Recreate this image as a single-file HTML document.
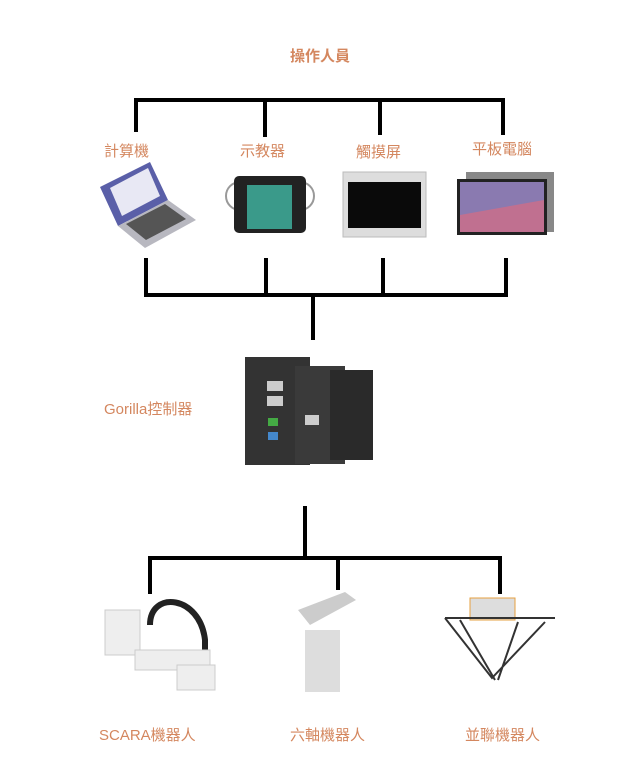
<!DOCTYPE html>
<html><head><meta charset="utf-8"><style>
body{margin:0;background:#fff;}
svg{display:block}
text{font-family:"Liberation Sans","Noto Sans CJK TC",sans-serif;font-size:15px;fill:#d4875f}
</style></head><body>
<svg width="640" height="764" xmlns="http://www.w3.org/2000/svg">
<g stroke="#000" stroke-width="4" fill="none" stroke-linecap="square">
<path d="M136 130V100H503V133M265 100V135M380 100V133"/>
<path d="M146 260V295H506V260M266 260V295M383 260V295M313 295V338"/>
<path d="M305 508V558M150 592V558H500V592M338 558V588"/>
</g>
<text x="290" y="61" font-weight="bold">操作人員</text>
<text x="104" y="156">計算機</text>
<text x="240" y="156">示教器</text>
<text x="356" y="157">觸摸屏</text>
<text x="472" y="154">平板電腦</text>
<text x="104" y="414">Gorilla控制器</text>
<text x="99" y="740">SCARA機器人</text>
<text x="290" y="740">六軸機器人</text>
<text x="465" y="740">並聯機器人</text>
<!-- laptop -->
<polygon points="100,187 150,162 168,200 118,226" fill="#5a5fa8"/>
<polygon points="110,188 148,168 160,196 122,216" fill="#e8e8f4"/>
<polygon points="118,226 168,200 196,220 145,248" fill="#b8b8c0"/>
<polygon points="126,224 165,204 186,219 146,240" fill="#555"/>
<!-- pendant -->
<rect x="226" y="182" width="88" height="28" rx="14" fill="none" stroke="#999" stroke-width="2"/>
<rect x="234" y="176" width="72" height="57" rx="5" fill="#222"/>
<rect x="247" y="185" width="45" height="44" fill="#3a9a8a"/>
<!-- touch screen -->
<rect x="343" y="172" width="83" height="65" fill="#ddd" stroke="#bbb"/>
<rect x="348" y="182" width="73" height="46" fill="#0a0a0a"/>
<!-- tablet -->
<rect x="466" y="172" width="88" height="60" fill="#888"/>
<rect x="457" y="179" width="90" height="56" fill="#222"/>
<rect x="460" y="182" width="84" height="50" fill="#c07090"/>
<polygon points="460,182 544,182 544,200 460,215" fill="#8a7ab0"/>
<!-- controller -->
<rect x="245" y="357" width="65" height="108" fill="#333"/>
<rect x="295" y="366" width="50" height="98" fill="#3a3a3a"/>
<rect x="330" y="370" width="43" height="90" fill="#2a2a2a"/>
<rect x="267" y="381" width="16" height="10" fill="#ccc"/>
<rect x="267" y="396" width="16" height="10" fill="#ccc"/>
<rect x="305" y="415" width="14" height="10" fill="#ccc"/>
<rect x="268" y="418" width="10" height="8" fill="#4a4"/>
<rect x="268" y="432" width="10" height="8" fill="#48c"/>
<!-- SCARA -->
<path d="M150 625C150 590 200 595 205 640V665" stroke="#222" stroke-width="6" fill="none"/>
<rect x="105" y="610" width="35" height="45" fill="#eee" stroke="#ccc"/>
<rect x="135" y="650" width="75" height="20" fill="#eee" stroke="#ccc"/>
<rect x="177" y="665" width="38" height="25" fill="#eee" stroke="#ccc"/>
<!-- 6-axis -->
<rect x="305" y="630" width="35" height="62" fill="#ddd"/>
<polygon points="298,610 345,592 356,600 310,625" fill="#ccc"/>
<!-- delta -->
<rect x="470" y="598" width="45" height="22" fill="#ddd" stroke="#e6a040"/>
<path d="M445 618L492 678L545 622M460 620L495 680M518 622L498 680M445 618H555" stroke="#333" stroke-width="2" fill="none"/>
</svg>
</body></html>
